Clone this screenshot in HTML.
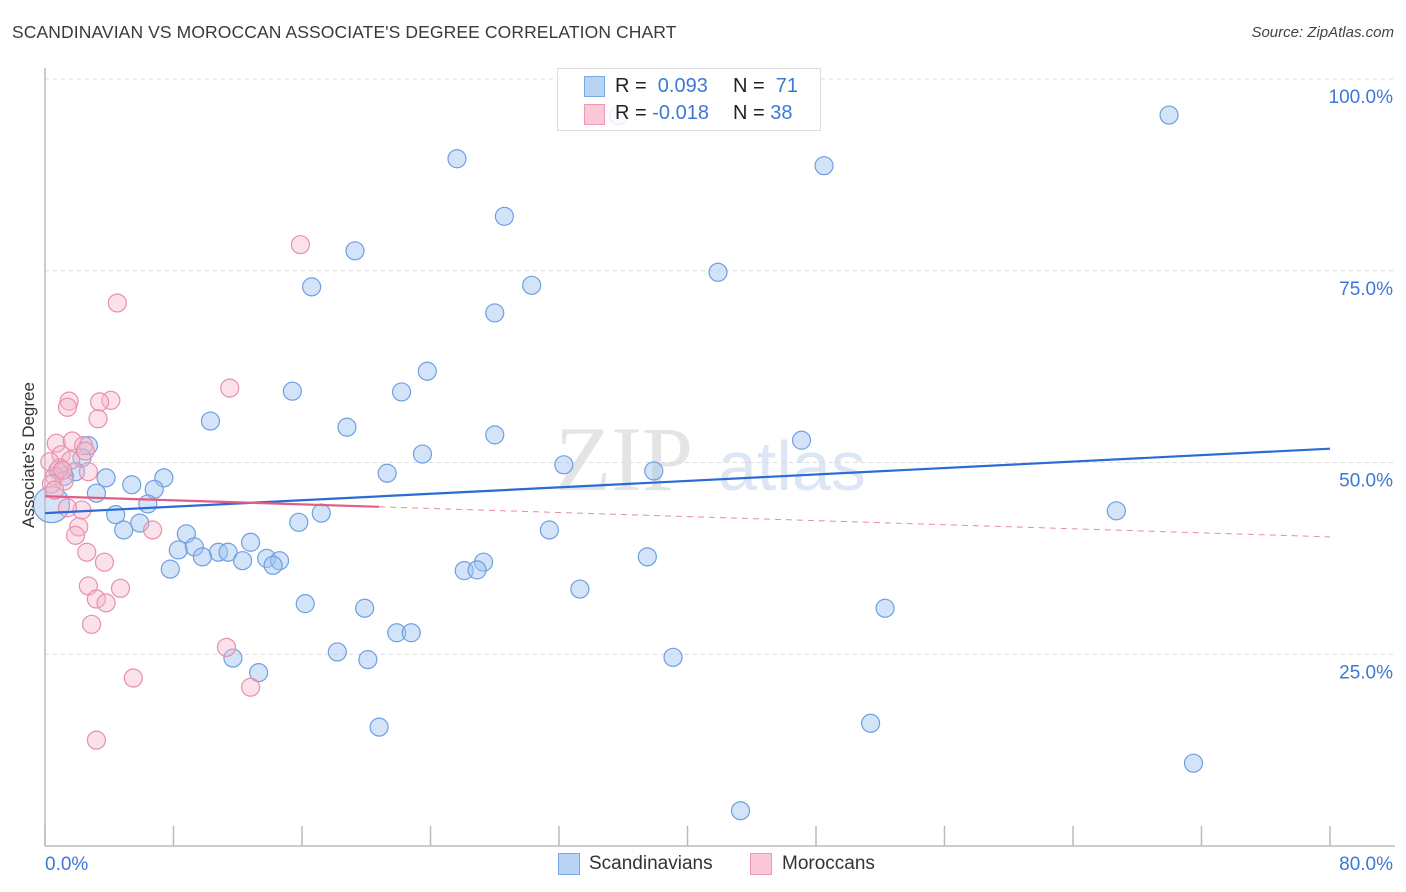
<!DOCTYPE html>
<html><head><meta charset="utf-8">
<style>
body{margin:0;background:#fff;font-family:"Liberation Sans",sans-serif;}
#wrap{position:relative;width:1406px;height:892px;overflow:hidden;}
.t{position:absolute;white-space:nowrap;}
</style></head><body>
<div id="wrap">
<div class="t" style="left:12px;top:22px;font-size:17.5px;color:#3a3a3a;letter-spacing:0.1px;">SCANDINAVIAN VS MOROCCAN ASSOCIATE'S DEGREE CORRELATION CHART</div>
<div class="t" style="right:12px;top:24px;font-size:15px;color:#444;font-style:italic;">Source: ZipAtlas.com</div>
<svg id="chart" width="1406" height="892" style="position:absolute;left:0;top:0">
<text x="555" y="490" font-size="92" font-family="Liberation Serif,serif" fill="#e4e4e4">ZIP</text>
<text x="718" y="490" font-size="70" font-family="Liberation Sans,sans-serif" fill="#dce6f4">atlas</text>
<g id="grid"></g><g id="axes"></g><g id="pts"></g><g id="lines"></g>
<text x="34" y="455" font-size="17" fill="#333" transform="rotate(-90 34 455)" text-anchor="middle">Associate's Degree</text>
</svg>
<div style="position:absolute;left:557px;top:68px;width:262px;height:61px;border:1px solid #ddd;background:rgba(255,255,255,0.85);">
 <div style="position:absolute;left:26px;top:7px;width:19px;height:19px;background:#b9d3f5;border:1px solid #7aa8e6;"></div>
 <div style="position:absolute;left:26px;top:35px;width:19px;height:19px;background:#fac8d6;border:1px solid #ee99b2;"></div>
 <div class="t" style="left:57px;top:6px;font-size:20px;color:#222;">R = &nbsp;<span style="color:#3d78d8">0.093</span></div>
 <div class="t" style="left:175px;top:6px;font-size:20px;color:#222;">N = &nbsp;<span style="color:#3d78d8">71</span></div>
 <div class="t" style="left:57px;top:33px;font-size:20px;color:#222;">R = <span style="color:#3d78d8">-0.018</span></div>
 <div class="t" style="left:175px;top:33px;font-size:20px;color:#222;">N = <span style="color:#3d78d8">38</span></div>
</div>
<div style="position:absolute;left:558px;top:853px;width:20px;height:20px;background:#b9d3f5;border:1px solid #7aa8e6;"></div>
<div class="t" style="left:589px;top:853px;font-size:19px;color:#333;">Scandinavians</div>
<div style="position:absolute;left:750px;top:853px;width:20px;height:20px;background:#fac8d6;border:1px solid #ee99b2;"></div>
<div class="t" style="left:782px;top:853px;font-size:19px;color:#333;">Moroccans</div>
</div>
<script>
const blueX=[69.98,25.65,48.5,28.6,19.3,16.6,41.9,30.3,28.0,23.8,15.4,22.2,10.3,18.8,28.0,47.1,23.5,2.7,2.3,32.3,37.9,21.3,1.9,3.8,7.4,5.4,6.8,3.2,6.4,4.4,17.2,66.7,15.8,5.9,4.9,31.4,8.8,12.8,8.3,9.3,37.5,10.8,11.4,9.8,13.8,12.3,14.6,14.2,27.3,7.8,26.1,26.9,33.3,16.2,19.9,52.3,21.9,22.8,18.2,20.1,39.1,11.7,13.3,20.8,51.4,71.5,43.3,1.2,0.8,35.7,0.4];
const blueY=[95.3,89.6,88.7,82.1,77.6,72.9,74.8,73.1,69.5,61.9,59.3,59.2,55.4,54.6,53.6,52.9,51.1,52.2,50.6,49.7,48.9,48.6,48.8,48.0,48.0,47.1,46.5,46.0,44.6,43.2,43.4,43.7,42.2,42.1,41.2,41.2,40.7,39.6,38.6,39.0,37.7,38.3,38.3,37.7,37.5,37.2,37.2,36.6,37.0,36.1,35.9,36.0,33.5,31.6,31.0,31.0,27.8,27.8,25.3,24.3,24.6,24.5,22.6,15.5,16.0,10.8,4.6,48.2,49.0,95.2,44.5];
const pinkX=[15.9,4.5,11.5,1.5,1.4,4.1,3.4,3.3,0.7,1.7,2.4,1.0,2.5,1.6,0.9,0.6,2.7,1.2,0.4,0.3,2.3,1.4,2.1,1.9,6.7,2.6,3.7,2.7,4.7,3.2,3.8,2.9,11.3,5.5,12.8,3.2,0.6,1.1];
const pinkY=[78.4,70.8,59.7,58.0,57.2,58.1,57.9,55.7,52.5,52.8,52.2,51.0,51.5,50.3,49.3,48.2,48.8,47.6,47.2,50.1,43.8,44.1,41.6,40.5,41.2,38.3,37.0,33.9,33.6,32.2,31.7,28.9,25.9,21.9,20.7,13.8,46.4,49.0];
const blueTrend=[43.4,51.8]; // y at x=0 and x=80
const pinkTrend=[45.6,40.3];
const pinkSolidEnd=20.8;
const yTicks=[100,75,50,25];
const xTicks=[0,10,20,30,40,50,60,70,80,90,100];
const NS='http://www.w3.org/2000/svg';
const X0=45,X1=1330,Y0=846,YT=79;
const sx=v=>X0+(v/80)*(X1-X0);
const sy=v=>Y0-(v/100)*(Y0-YT);
function mk(tag,attrs,parent){const e=document.createElementNS(NS,tag);for(const k in attrs)e.setAttribute(k,attrs[k]);parent.appendChild(e);return e;}
const grid=document.getElementById('grid'),axes=document.getElementById('axes'),pts=document.getElementById('pts'),lines=document.getElementById('lines'),svg=document.getElementById('chart');
yTicks.forEach(t=>{
 const l=mk('line',{x1:X0,x2:1395,y1:sy(t),y2:sy(t),stroke:'#dcdcdc','stroke-dasharray':'4,4'},grid);
 
 
 const tx=mk('text',{x:1393,y:sy(t)+24,'text-anchor':'end','font-size':19,fill:'#3d78d8'},svg);
 tx.textContent=t.toFixed(1)+'%';
 
 
});
const ya=mk('line',{x1:X0,x2:X0,y1:68,y2:Y0,stroke:'#bbb','stroke-width':1.5},axes);


const xa=mk('line',{x1:X0,x2:1395,y1:Y0,y2:Y0,stroke:'#bbb','stroke-width':1.5},axes);


xTicks.forEach(t=>{
 const x=X0+t/100*(X1-X0);
 const tk=mk('line',{x1:x,x2:x,y1:826,y2:Y0,stroke:'#bbb','stroke-width':1.5},axes);
 
 
});
[['0.0%',X0,'start'],['80.0%',1393,'end']].forEach(a=>{
 const tx=mk('text',{x:a[1],y:870,'text-anchor':a[2],'font-size':19,fill:'#3d78d8'},svg);
 tx.textContent=a[0];
 
 
});
blueX.forEach((v,i)=>{
 const big=(i===blueX.length-1);
 const c=mk('circle',{cx:sx(v),cy:sy(blueY[i]),r:big?18:9,fill:'rgba(160,196,240,0.45)',stroke:'#6d9fe2','stroke-width':1.2},pts);
 
 
});
pinkX.forEach((v,i)=>{
 const c=mk('circle',{cx:sx(v),cy:sy(pinkY[i]),r:9,fill:'rgba(246,182,202,0.4)',stroke:'#ea8fab','stroke-width':1.2},pts);
 
 
});
const bl=mk('line',{x1:sx(0),y1:sy(blueTrend[0]),x2:sx(80),y2:sy(blueTrend[1]),stroke:'#2a6bd6','stroke-width':2.2},lines);


const pAt=x=>pinkTrend[0]+(pinkTrend[1]-pinkTrend[0])*x/80;
const ps=mk('line',{x1:sx(0),y1:sy(pinkTrend[0]),x2:sx(pinkSolidEnd),y2:sy(pAt(pinkSolidEnd)),stroke:'#e45c86','stroke-width':2.2},lines);


const pd=mk('line',{x1:sx(pinkSolidEnd),y1:sy(pAt(pinkSolidEnd)),x2:sx(80),y2:sy(pinkTrend[1]),stroke:'#e98aa6','stroke-width':1,'stroke-dasharray':'6,5'},lines);


</script>
</body></html>
